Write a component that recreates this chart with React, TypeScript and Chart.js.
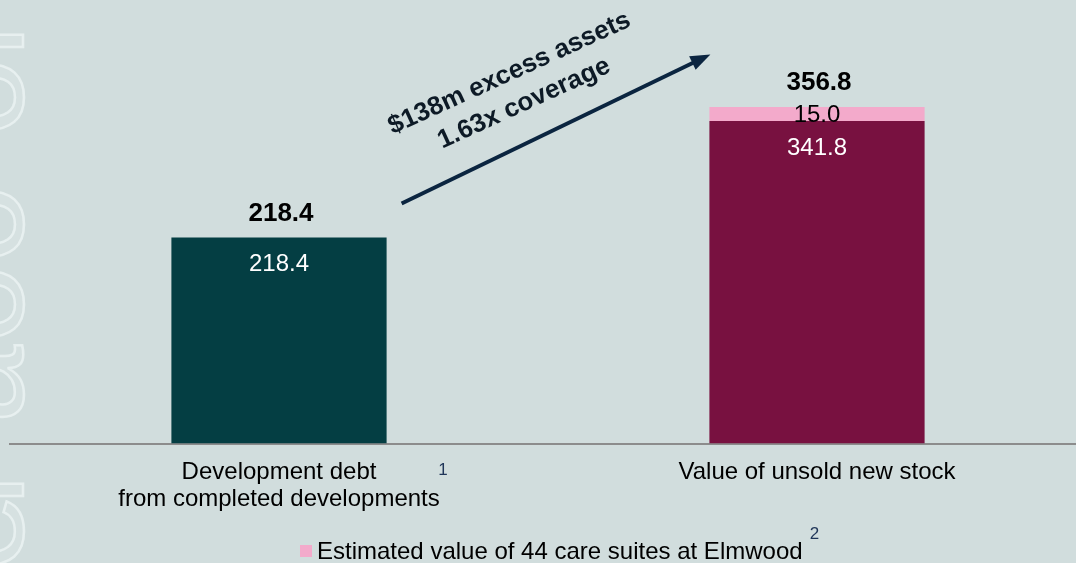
import React, { useEffect, useRef } from "react";
import { Chart, registerables } from "chart.js";

Chart.register(...registerables);

// ---- Data ----
const categories: string[][] = [
  ["Development debt", "from completed developments"],
  ["Value of unsold new stock"],
];
const baseValues: number[] = [218.4, 341.8];
const careSuiteValues: number[] = [0, 15.0];
const totals: number[] = [218.4, 356.8];
const baseColors: string[] = ["#043e43", "#781140"];
const careSuiteColor = "#f3aacb";
const legendLabel = "Estimated value of 44 care suites at Elmwood";
const footnoteCategory = "1";
const footnoteLegend = "2";
const arrowLines: string[] = ["$138m excess assets", "1.63x coverage"];
const watermarkChars: string[] = ["l", "o", "o", "o", "a", "l", "e"];
const watermarkPos: number[] = [41, 97, 224, 304, 384, 490, 532];

const FONT = "'Liberation Sans', Arial, Helvetica, sans-serif";
const BG = "#d1dddd";

const fmt = (v: number) => v.toFixed(1);

const annotationPlugin = {
  id: "annotations",
  beforeDraw(chart: any) {
    const ctx = chart.ctx;
    ctx.save();
    ctx.font = `140px ${FONT}`;
    ctx.textAlign = "center";
    ctx.textBaseline = "alphabetic";
    ctx.lineWidth = 2.5;
    ctx.strokeStyle = "rgba(240,246,246,0.7)";
    ctx.fillStyle = "rgba(255,255,255,0.12)";
    watermarkChars.forEach((ch, i) => {
      ctx.save();
      ctx.translate(23, watermarkPos[i]);
      ctx.rotate(-Math.PI / 2);
      ctx.fillText(ch, 0, 0);
      ctx.strokeText(ch, 0, 0);
      ctx.restore();
    });
    ctx.restore();
  },
  afterDatasetsDraw(chart: any) {
    const ctx = chart.ctx;
    const m0 = chart.getDatasetMeta(0).data;
    const m1 = chart.getDatasetMeta(1).data;
    const ys = chart.scales.y;
    const xs = chart.scales.x;
    ctx.save();
    ctx.textAlign = "center";

    for (let i = 0; i < baseValues.length; i++) {
      const b: any = m0[i];
      ctx.font = `24px ${FONT}`;
      ctx.fillStyle = "#ffffff";
      ctx.textBaseline = "middle";
      ctx.fillText(fmt(baseValues[i]), b.x, b.y + 27);
      if (careSuiteValues[i] > 0) {
        const p: any = m1[i];
        ctx.fillStyle = "#000000";
        ctx.fillText(fmt(careSuiteValues[i]), p.x, (p.y + p.base) / 2 + 1);
      }
      const top = ys.getPixelForValue(totals[i]);
      ctx.font = `bold 26px ${FONT}`;
      ctx.fillStyle = "#000000";
      ctx.textBaseline = "alphabetic";
      ctx.fillText(fmt(totals[i]), b.x + 2, top - 16.5);
    }

    // Arrow between bars
    const b0: any = m0[0];
    const b1: any = m0[1];
    const x0 = b0.x + b0.width / 2 + 15;
    const y0 = ys.getPixelForValue(254.5);
    const x1 = b1.x - b1.width / 2 + 1;
    const y1 = ys.getPixelForValue(412.5);
    const ang = Math.atan2(y1 - y0, x1 - x0);
    const headLen = 20;
    const headHalf = 7.5;
    ctx.strokeStyle = "#0b2540";
    ctx.fillStyle = "#0b2540";
    ctx.lineWidth = 4;
    ctx.beginPath();
    ctx.moveTo(x0, y0);
    ctx.lineTo(x1 - Math.cos(ang) * (headLen - 2), y1 - Math.sin(ang) * (headLen - 2));
    ctx.stroke();
    ctx.beginPath();
    ctx.moveTo(x1, y1);
    ctx.lineTo(
      x1 - Math.cos(ang) * headLen - Math.sin(ang) * headHalf,
      y1 - Math.sin(ang) * headLen + Math.cos(ang) * headHalf
    );
    ctx.lineTo(
      x1 - Math.cos(ang) * headLen + Math.sin(ang) * headHalf,
      y1 - Math.sin(ang) * headLen - Math.cos(ang) * headHalf
    );
    ctx.closePath();
    ctx.fill();

    // Arrow text
    const rot = (-24.5 * Math.PI) / 180;
    ctx.font = `bold 26px ${FONT}`;
    ctx.fillStyle = "#0d1a26";
    ctx.textBaseline = "alphabetic";
    ctx.textAlign = "center";
    const centers = [
      [512.5, 80],
      [527, 110],
    ];
    arrowLines.forEach((t, i) => {
      ctx.save();
      ctx.translate(centers[i][0], centers[i][1]);
      ctx.rotate(rot);
      ctx.fillText(t, 0, 0);
      ctx.restore();
    });

    // footnote on category 1
    ctx.font = `17px ${FONT}`;
    ctx.fillStyle = "#1f3558";
    ctx.textBaseline = "middle";
    ctx.fillText(footnoteCategory, xs.getPixelForValue(0) + 164, 470);

    // Legend
    const legX = 300;
    ctx.fillStyle = careSuiteColor;
    ctx.fillRect(legX, 545, 12, 12);
    ctx.font = `24px ${FONT}`;
    ctx.fillStyle = "#000000";
    ctx.textAlign = "left";
    ctx.textBaseline = "alphabetic";
    ctx.fillText(legendLabel, legX + 17, 559);
    const w = ctx.measureText(legendLabel).width;
    ctx.font = `17px ${FONT}`;
    ctx.fillStyle = "#1f3558";
    ctx.textAlign = "center";
    ctx.textBaseline = "middle";
    ctx.fillText(footnoteLegend, legX + 17 + w + 12, 534);
    ctx.restore();
  },
};

export default function App() {
  const ref = useRef<HTMLCanvasElement | null>(null);
  useEffect(() => {
    if (!ref.current) return;
    const chart = new Chart(ref.current, {
      type: "bar",
      data: {
        labels: categories as any,
        datasets: [
          {
            label: "Base",
            data: baseValues,
            backgroundColor: baseColors,
            barPercentage: 0.4,
            categoryPercentage: 1,
            stack: "s",
          },
          {
            label: legendLabel,
            data: careSuiteValues,
            backgroundColor: careSuiteColor,
            barPercentage: 0.4,
            categoryPercentage: 1,
            stack: "s",
          },
        ],
      },
      options: {
        animation: false,
        responsive: false,
        layout: { padding: { left: 10, right: 4, top: 19, bottom: 34.7 } },
        plugins: {
          legend: { display: false },
          tooltip: { enabled: false },
        },
        scales: {
          x: {
            stacked: true,
            grid: { display: false, drawTicks: false },
            border: { display: true, color: "#8c8c8c", width: 2 },
            ticks: {
              color: "#000000",
              font: { family: FONT, size: 24, lineHeight: 1.12 },
              padding: 15.5,
              maxRotation: 0,
              autoSkip: false,
            },
          },
          y: {
            stacked: true,
            display: false,
            min: 0,
            max: 450,
          },
        },
      },
      plugins: [annotationPlugin],
    });
    return () => chart.destroy();
  }, []);

  return (
    <div
      style={{
        position: "fixed",
        left: 0,
        top: 0,
        width: 1076,
        height: 563,
        overflow: "hidden",
        background: BG,
      }}
    >
      <canvas ref={ref} width={1090} height={563} style={{ display: "block", width: 1090, height: 563 }} />
    </div>
  );
}
